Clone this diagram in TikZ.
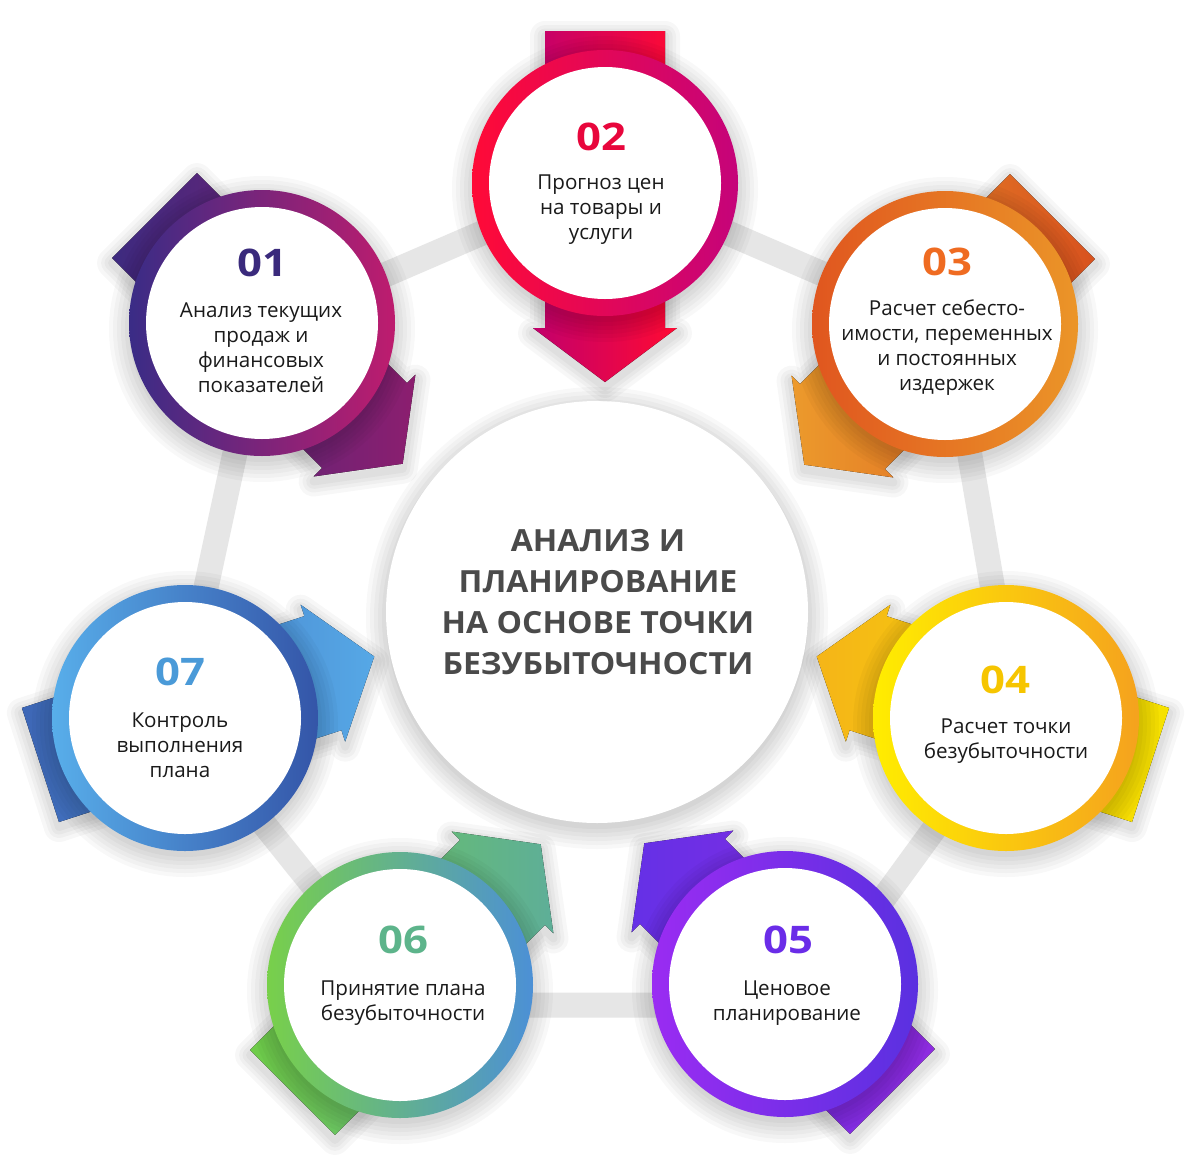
\documentclass[tikz,border=0pt]{standalone}
\usepackage{fontspec}
\setmainfont{Open Sans}
\newfontfamily\numfont{Open Sans}[FakeStretch=1.15]
\newfontfamily\titlefont{Open Sans}[FakeStretch=1.05]
\usetikzlibrary{calc}
\definecolor{conn}{HTML}{E6E6E6}
\definecolor{titlegray}{HTML}{4A4A4A}
\definecolor{bodytext}{HTML}{1A1A1A}
% rings (left, right)
\definecolor{rA1}{HTML}{3A2C86}\definecolor{rB1}{HTML}{BE1C6E}
\definecolor{rA2}{HTML}{FF0A37}\definecolor{rB2}{HTML}{C5047A}
\definecolor{rA3}{HTML}{E0561F}\definecolor{rB3}{HTML}{EB9528}
\definecolor{rA4}{HTML}{FFED00}\definecolor{rB4}{HTML}{F5A21E}
\definecolor{rA5}{HTML}{9A2CF2}\definecolor{rB5}{HTML}{5A30E0}
\definecolor{rA6}{HTML}{78D04A}\definecolor{rB6}{HTML}{4C90D6}
\definecolor{rA7}{HTML}{58AEEA}\definecolor{rB7}{HTML}{3455A8}
% arrows (tail, head)
\definecolor{aT1}{HTML}{3D2A7F}\definecolor{aH1}{HTML}{8C1E6F}
\definecolor{aT2}{HTML}{C2006C}\definecolor{aH2}{HTML}{FF0A33}
\definecolor{aT3}{HTML}{D8521E}\definecolor{aH3}{HTML}{EC9A2C}
\definecolor{aT4}{HTML}{F6E200}\definecolor{aH4}{HTML}{F5B518}
\definecolor{aT5}{HTML}{8E2CE0}\definecolor{aH5}{HTML}{6530E6}
\definecolor{aT6}{HTML}{6FCC49}\definecolor{aH6}{HTML}{5EAE98}
\definecolor{aT7}{HTML}{3D66B6}\definecolor{aH7}{HTML}{56A8E6}
% numbers
\definecolor{nC1}{HTML}{3A2A7C}
\definecolor{nC2}{HTML}{E8063C}
\definecolor{nC3}{HTML}{EF6B21}
\definecolor{nC4}{HTML}{F6C500}
\definecolor{nC5}{HTML}{6A2CE8}
\definecolor{nC6}{HTML}{5DB48B}
\definecolor{nC7}{HTML}{4A9AD8}
\newcommand\arrowpath{(-152,-60) -- (145,-60) -- (145,-72) -- (199,0) -- (145,72) -- (145,60) -- (-152,60) -- cycle}
% #1 centre, #2 rotation, #3 left shading colour, #4 right shading colour
\newcommand\drawarrow[4]{%
  \begin{scope}[shift={(#1)}]
    \begin{scope}[shift={(0,5)},rotate=#2]
      \foreach \w in {30,22,15,8} {\draw[shadowline,line width=\w pt] \arrowpath;}
    \end{scope}
    \begin{scope}[rotate=#2]
      \fill[left color=#3,right color=#4] \arrowpath;
    \end{scope}
  \end{scope}}
\newcommand\circshadow[2]{%
  \foreach \r in {0,4,...,20} {\fill[black,opacity=0.028] ($(#1)+(0,6)$) circle[radius=#2+\r];}}
\tikzset{
  shadowline/.style={draw=black,opacity=0.03,line join=round},
  connector/.style={draw=conn,line width=25pt,line join=round},
  ringnode/.style={circle,minimum size=266pt,inner sep=0pt},
  whitenode/.style={circle,fill=white,minimum size=232pt,inner sep=0pt},
  numstyle/.style={font=\numfont\bfseries\fontsize{38}{40}\selectfont,inner sep=0pt},
  txt/.style={font=\fontsize{20.6}{25}\selectfont,text=bodytext,align=center,inner sep=0pt},
  titlestyle/.style={font=\titlefont\bfseries\fontsize{30.5}{41}\selectfont,text=titlegray,align=center,inner sep=0pt},
}
\begin{document}
\begin{tikzpicture}[x=1pt,y=-1pt]
\useasboundingbox (0,0) rectangle (1200,1170);
\fill[white] (0,0) rectangle (1200,1170);
% centres
\coordinate (p1) at (262,323);
\coordinate (p2) at (605,183);
\coordinate (p3) at (945,324);
\coordinate (p4) at (1006,718);
\coordinate (p5) at (785,984);
\coordinate (p6) at (400,985);
\coordinate (p7) at (185,718);
\coordinate (pc) at (597,612);
% connector vertices
\coordinate (v1) at (262,328);
\coordinate (v2) at (605,180);
\coordinate (v3) at (948,328);
\coordinate (v4) at (1015,718);
\coordinate (v5) at (806,1005);
\coordinate (v6) at (409,1005);
\coordinate (v7) at (178,717);
\draw[connector] (v1) -- (v2) -- (v3) -- (v4) -- (v5) -- (v6) -- (v7) -- cycle;
% central circle
\circshadow{pc}{211}
\node[circle,fill=white,minimum size=422pt,inner sep=0pt] (centre) at (pc) {};
\node[titlestyle] (title) at (598,602) {АНАЛИЗ И\\ПЛАНИРОВАНИЕ\\НА ОСНОВЕ ТОЧКИ\\БЕЗУБЫТОЧНОСТИ};
% items
\drawarrow{p1}{-45}{aT1}{aH1}
\circshadow{p1}{133}
\node[ringnode,left color=rA1,right color=rB1] (ring1) at (p1) {};
\node[whitenode] (in1) at (p1) {};
\drawarrow{p2}{-90}{aT2}{aH2}
\circshadow{p2}{133}
\node[ringnode,left color=rA2,right color=rB2] (ring2) at (p2) {};
\node[whitenode] (in2) at (p2) {};
\drawarrow{p3}{-135}{aH3}{aT3}
\circshadow{p3}{133}
\node[ringnode,left color=rA3,right color=rB3] (ring3) at (p3) {};
\node[whitenode] (in3) at (p3) {};
\drawarrow{p4}{162}{aH4}{aT4}
\circshadow{p4}{133}
\node[ringnode,left color=rA4,right color=rB4] (ring4) at (p4) {};
\node[whitenode] (in4) at (p4) {};
\drawarrow{p5}{135}{aH5}{aT5}
\circshadow{p5}{133}
\node[ringnode,left color=rA5,right color=rB5] (ring5) at (p5) {};
\node[whitenode] (in5) at (p5) {};
\drawarrow{p6}{45}{aT6}{aH6}
\circshadow{p6}{133}
\node[ringnode,left color=rA6,right color=rB6] (ring6) at (p6) {};
\node[whitenode] (in6) at (p6) {};
\drawarrow{p7}{18}{aT7}{aH7}
\circshadow{p7}{133}
\node[ringnode,left color=rA7,right color=rB7] (ring7) at (p7) {};
\node[whitenode] (in7) at (p7) {};
% texts
\node[numstyle,text=nC1] (num1) at (262,263) {01};
\node[txt] (txt1) at (261,348) {Анализ текущих\\продаж и\\финансовых\\показателей};
\node[numstyle,text=nC2] (num2) at (601,137) {02};
\node[txt] (txt2) at (601,210) {Прогноз цен\\на товары и\\услуги};
\node[numstyle,text=nC3] (num3) at (947,262) {03};
\node[txt] (txt3) at (947,348) {Расчет себесто-\\имости, переменных\\и постоянных\\издержек};
\node[numstyle,text=nC4] (num4) at (1005,680) {04};
\node[txt] (txt4) at (1006,741) {Расчет точки\\безубыточности};
\node[numstyle,text=nC5] (num5) at (788,940) {05};
\node[txt] (txt5) at (787,1003) {Ценовое\\планирование};
\node[numstyle,text=nC6] (num6) at (403,940) {06};
\node[txt] (txt6) at (403,1003) {Принятие плана\\безубыточности};
\node[numstyle,text=nC7] (num7) at (180,672) {07};
\node[txt] (txt7) at (180,745) {Контроль\\выполнения\\плана};
\end{tikzpicture}
\end{document}
